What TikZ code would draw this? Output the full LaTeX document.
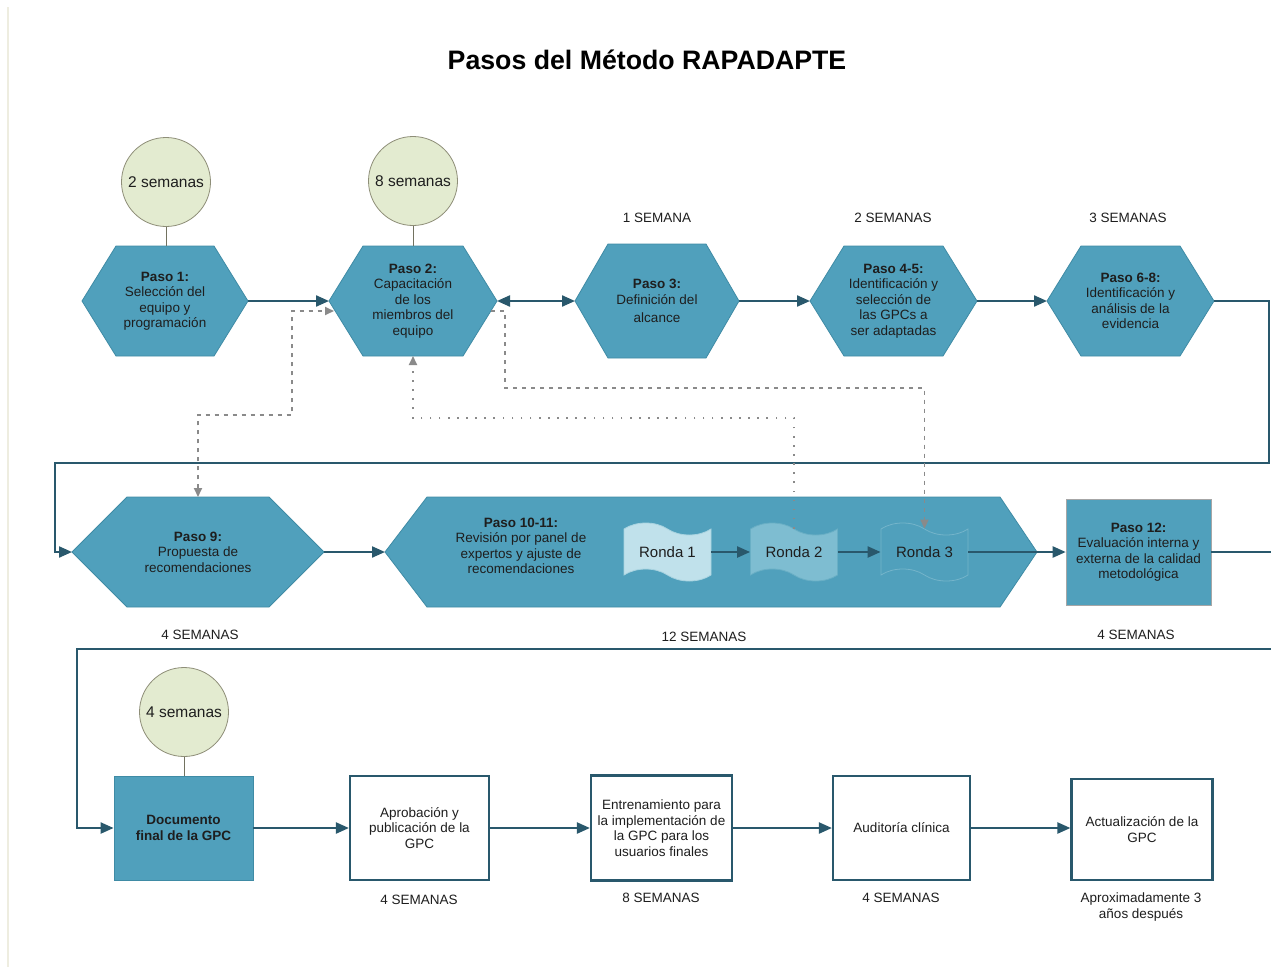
\documentclass[tikz,border=0pt]{standalone}
\usepackage{fontspec}
\setmainfont{Liberation Sans}
\usetikzlibrary{arrows.meta,shapes.symbols,backgrounds}

\definecolor{hexteal}{HTML}{50A0BC}
\definecolor{hexedge}{HTML}{3F8BA5}
\definecolor{flow}{HTML}{29586C}
\definecolor{ink}{HTML}{1E1E1E}
\definecolor{sage}{HTML}{E3EBD0}
\definecolor{sageedge}{HTML}{8E8E78}
\definecolor{hint}{HTML}{8A8A8A}
\definecolor{rondaA}{HTML}{C0E1EB}
\definecolor{rondaAedge}{HTML}{A8D3E0}
\definecolor{rondaB}{HTML}{7EBDD1}
\definecolor{rondaBedge}{HTML}{69AFC5}
\definecolor{rondaCedge}{HTML}{74B4CA}
\definecolor{margin}{HTML}{EEEDE0}

% hexagon body behind a rectangular node: #1 node, #2 left cut, #3 right cut
\newcommand\hexbody[3]{%
  \filldraw[hexshape] (#1.west) -- ([xshift=#2]#1.north west)
    -- ([xshift=-#3]#1.north east) -- (#1.east)
    -- ([xshift=-#3]#1.south east) -- ([xshift=#2]#1.south west) -- cycle;}

\begin{document}
\begin{tikzpicture}[x=1pt,y=-1pt,
  txt/.style={font=\fontsize{13.5}{15.5}\selectfont, text=ink, align=center},
  hexnode/.style={txt, inner sep=0pt, outer sep=0pt, minimum width=166pt, minimum height=110pt},
  hexshape/.style={fill=hexteal, draw=hexedge, line width=0.8pt},
  week/.style={circle, fill=sage, draw=sageedge, line width=0.8pt, minimum size=89pt,
    inner sep=0pt, font=\fontsize{15.5}{17}\selectfont, text=ink},
  tether/.style={draw=sageedge!80!black, line width=0.8pt},
  ronda/.style={tape, tape bend top=out and in, tape bend bottom=out and in,
    minimum width=87pt, minimum height=58pt, tape bend height=12pt,
    line width=0.8pt, inner sep=0pt, font=\fontsize{15}{17}\selectfont, text=ink},
  outbox/.style={txt, draw=flow, line width=2.2pt, fill=white, inner sep=0pt},
  tealbox/.style={txt, fill=hexteal, inner sep=0pt},
  flowtip/.tip={Triangle[length=13pt,width=11pt]},
  hinttip/.tip={Triangle[length=9pt,width=8pt]},
  flowline/.style={draw=flow, line width=2.2pt, -flowtip},
  hintdash/.style={draw=hint, line width=1.8pt, dash pattern=on 4pt off 5pt},
  hintdot/.style={draw=hint, line width=1.8pt, dash pattern=on 1.6pt off 7.5pt}
]
\useasboundingbox (0,0) rectangle (1271,967);

% left page margin rule
\draw[margin, line width=1.5pt] (8,7) -- (8,967);

% title
\node[font=\bfseries\fontsize{26.7}{30}\selectfont, text=black] (title) at (647,60)
  {Pasos del Método RAPADAPTE};

% ---- first row: steps 1 to 8
\node[hexnode] (p1) at (165,301) {\textbf{Paso 1:}\\Selección del\\equipo y\\programación};
\node[hexnode, minimum width=168pt] (p2) at (413,301)
  {\textbf{Paso 2:}\\Capacitación\\de los\\miembros del\\equipo};
\node[hexnode, minimum width=164pt, minimum height=114pt] (p3) at (657,301)
  {\textbf{Paso 3:}\\Definición del\\[3pt]alcance};
\node[hexnode, minimum width=167pt] (p45) at (893.5,301)
  {\textbf{Paso 4-5:}\\Identificación y\\selección de\\las GPCs a\\ser adaptadas};
\node[hexnode, minimum width=167pt] (p68) at (1130.5,301)
  {\textbf{Paso 6-8:}\\Identificación y\\análisis de la\\evidencia};

\node[week] (c1) at (166,182) {2 semanas};
\node[week] (c2) at (413,181) {8 semanas};
\draw[tether] (c1) -- (c1 |- p1.north);
\draw[tether] (c2) -- (c2 |- p2.north);

\node[txt] (w3) at (657,218) {1 SEMANA};
\node[txt] (w45) at (893,218) {2 SEMANAS};
\node[txt] (w68) at (1128,218) {3 SEMANAS};

% ---- second row: steps 9 to 12
\node[hexnode, minimum width=252pt] (p9) at (198,552)
  {\textbf{Paso 9:}\\Propuesta de\\recomendaciones};
\node[hexnode, minimum width=652pt] (p10) at (711,552) {};
\node[txt] (p10t) at (521,546)
  {\textbf{Paso 10-11:}\\Revisión por panel de\\expertos y ajuste de\\recomendaciones};
\node[ronda, fill=rondaA, draw=rondaAedge] (r1) at (667.5,552) {Ronda 1};
\node[ronda, fill=rondaB, draw=rondaBedge] (r2) at (794,552) {Ronda 2};
\node[ronda, fill=hexteal, draw=rondaCedge] (r3) at (924.5,552) {Ronda 3};
\node[tealbox, draw=gray!70, line width=0.6pt, minimum width=145pt, minimum height=106pt]
  (p12) at (1138.5,552)
  {\textbf{Paso 12:}\\Evaluación interna y\\externa de la calidad\\metodológica};

\node[txt] (w9) at (200,635) {4 SEMANAS};
\node[txt] (w10) at (704,637) {12 SEMANAS};
\node[txt] (w12) at (1136,635) {4 SEMANAS};

% ---- third row: final document and follow-up
\node[tealbox, draw=hexedge, line width=0.8pt, minimum width=139pt, minimum height=104pt,
  font=\bfseries\fontsize{13.5}{15.5}\selectfont] (doc) at (183.5,828)
  {Documento\\final de la GPC};
\node[week] (c3) at (184,712) {4 semanas};
\draw[tether] (c3) -- (c3 |- doc.north);

\node[outbox, minimum width=139pt, minimum height=104pt] (apr) at (419.5,828)
  {Aprobación y\\publicación de la\\GPC};
\node[outbox, minimum width=141pt, minimum height=105pt] (ent) at (661.5,828)
  {Entrenamiento para\\la implementación de\\la GPC para los\\usuarios finales};
\node[outbox, minimum width=137pt, minimum height=104pt] (aud) at (901.5,828)
  {Auditoría clínica};
\node[outbox, minimum width=141pt, minimum height=101pt] (act) at (1142,829.5)
  {Actualización de la\\GPC};

\node[txt] (wapr) at (419,900) {4 SEMANAS};
\node[txt] (went) at (661,898) {8 SEMANAS};
\node[txt] (waud) at (901,898) {4 SEMANAS};
\node[txt] (wact) at (1141,907) {Aproximadamente 3\\años después};

% ---- main flow
\draw[flowline] (p1.east) -- (p2.west);
\draw[flowline, flowtip-flowtip] (p2.east) -- (p3.west);
\draw[flowline] (p3.east) -- (p45.west);
\draw[flowline] (p45.east) -- (p68.west);
\draw[flowline] (p68.east) -- (1269,301) -- (1269,463) -- (55,463) |- (p9.west);
\draw[flowline] (p9.east) -- (p10.west);
\draw[flowline] (r1.east) -- (r2.west);
\draw[flowline] (r2.east) -- (r3.west);
\draw[flowline] (r3.east) -- (p12.west);
\draw[flowline] (p12.east) -- (1276,552) -- (1276,649) -- (77,649) |- (doc.west);
\draw[flowline] (doc.east) -- (apr.west);
\draw[flowline] (apr.east) -- (ent.west);
\draw[flowline] (ent.east) -- (aud.west);
\draw[flowline] (aud.east) -- (aud.east -| act.west);

% ---- feedback links
\draw[hintdash, hinttip-hinttip] (p9.north) -- (198,415) -- (292,415) -- (292,311)
  -- ([shift={(5,10)}]p2.west);
\draw[hintdash, -hinttip] ([shift={(-6,10)}]p2.east) -- (505,311) -- (505,388) -| (r3.north);
\draw[hintdot, -hinttip] (r2.north) |- (413,418) -- (p2.south);

% ---- backgrounds and hexagon bodies
\begin{scope}[on background layer]
  \fill[white] (0,0) rectangle (1271,967);
  \hexbody{p1}{34pt}{34pt}
  \hexbody{p2}{34pt}{34pt}
  \hexbody{p3}{33pt}{33pt}
  \hexbody{p45}{34pt}{34pt}
  \hexbody{p68}{34pt}{34pt}
  \hexbody{p9}{55pt}{55pt}
  \hexbody{p10}{42pt}{37pt}
\end{scope}
\end{tikzpicture}
\end{document}
